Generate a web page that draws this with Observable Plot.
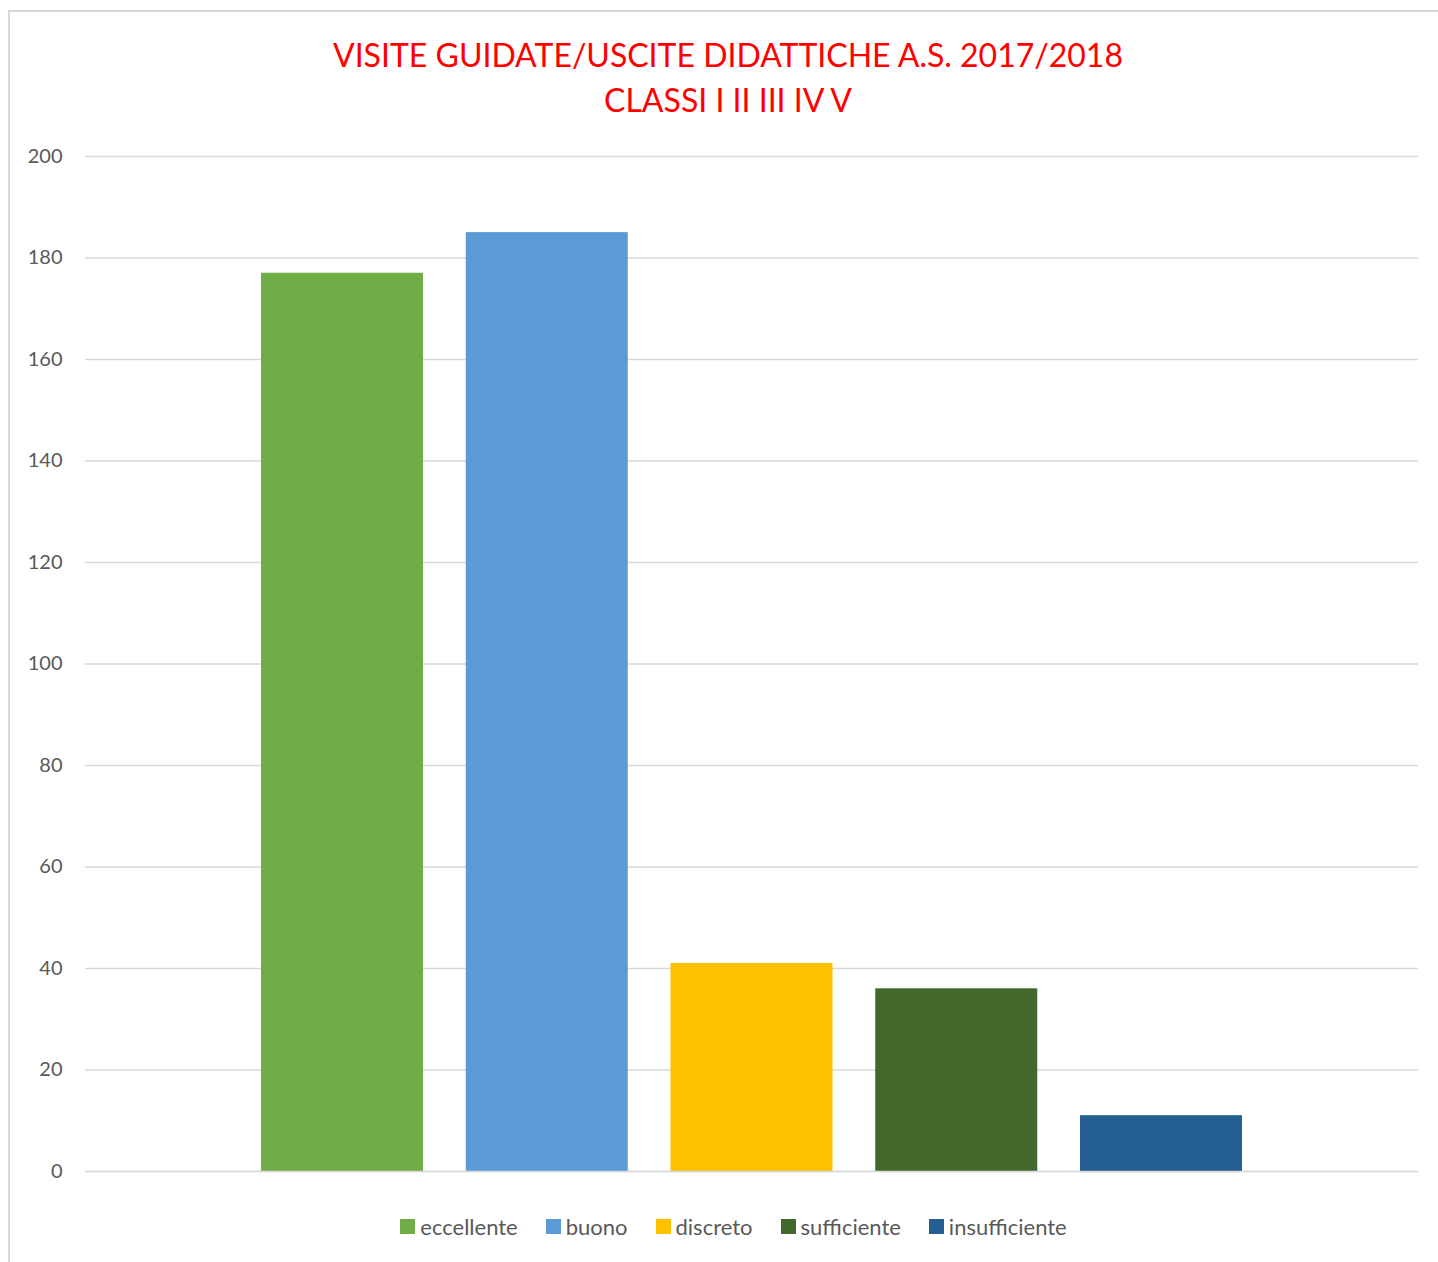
<!DOCTYPE html>
<html>
<head>
<meta charset="utf-8">
<script src="https://cdn.jsdelivr.net/npm/d3@7"></script>
<script src="https://cdn.jsdelivr.net/npm/@observablehq/plot@0.6"></script>
<style>
  html, body { margin: 0; padding: 0; background: #fff; overflow: hidden; }
  body { width: 1438px; height: 1262px; position: relative; font-family: Lato, "Open Sans", sans-serif; }
  #frame { position: absolute; left: 8px; top: 10px; width: 1500px; height: 1400px;
           border-left: 2px solid #d9d9d9; border-top: 2px solid #d9d9d9; }
  #title { position: absolute; left: 9px; width: 1438px; top: 32px; text-align: center;
           color: #ff0000; font-size: 32px; line-height: 45px; }
  #chart { position: absolute; left: 0; top: 120px; }
  #legend { position: absolute; left: 0; width: 1467px; top: 1213px; display: flex; justify-content: center;
            gap: 28px; font-size: 22px; color: #595959; }
  .item { display: flex; align-items: center; gap: 5px; }
  .sw { width: 15px; height: 15px; display: inline-block; }
</style>
</head>
<body>
<div id="frame"></div>
<div id="title">VISITE GUIDATE/USCITE DIDATTICHE A.S. 2017/2018<br>CLASSI I II III IV V</div>
<div id="chart"></div>
<div id="legend"></div>
<script>
const categories = ["eccellente", "buono", "discreto", "sufficiente", "insufficiente"];
const values = [177, 185, 41, 36, 11];
const colors = ["#70ad47", "#5b9bd5", "#ffc000", "#43682b", "#255e91"];
const yTicks = [0, 20, 40, 60, 80, 100, 120, 140, 160, 180, 200];

const data = categories.map((c, i) => ({ category: c, value: values[i] }));

const chart = Plot.plot({
  width: 1438,
  height: 1090,
  marginTop: 36,
  marginBottom: 39,
  marginLeft: 85,
  marginRight: 20,
  style: { fontFamily: "Lato, 'Open Sans', sans-serif", fontSize: "20px", color: "#595959", background: "transparent" },
  x: { domain: categories, paddingInner: 0.2088, paddingOuter: 0.8596, round: false, axis: null },
  y: { domain: [0, 200], ticks: yTicks, label: null, tickSize: 0, tickPadding: 23 },
  color: { domain: categories, range: colors },
  marks: [
    Plot.gridY(yTicks, { stroke: "#d9d9d9", strokeOpacity: 1, strokeWidth: 1.5 }),
    Plot.barY(data, { x: "category", y: "value", fill: "category" }),
    Plot.ruleY([0], { stroke: "#d9d9d9", strokeWidth: 1.5 })
  ]
});
chart.querySelectorAll("[aria-label='y-axis tick label'] text").forEach(t => t.setAttribute("fill", "#595959"));
document.getElementById("chart").appendChild(chart);

const legend = document.getElementById("legend");
categories.forEach((c, i) => {
  const item = document.createElement("span");
  item.className = "item";
  item.innerHTML = `<span class="sw" style="background:${colors[i]}"></span><span>${c}</span>`;
  legend.appendChild(item);
});
</script>
</body>
</html>
